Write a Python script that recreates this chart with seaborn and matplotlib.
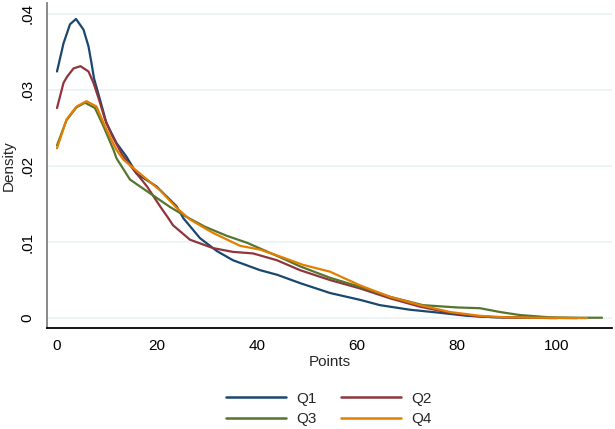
import pandas as pd
import matplotlib
matplotlib.use("Agg")
import matplotlib.pyplot as plt
import seaborn as sns

# density curves (x = points, y = density)
q1_x = [0, 1.3, 2.6, 3.8, 5.3, 6.3, 6.9, 7.4, 8.6, 9.9, 11.9, 13.9, 15.9, 19.9, 23.9, 25.3, 28.6, 32, 35.2, 40.6, 44, 48.6, 54.6, 60.6, 64.6, 70.6, 76.6, 82, 88, 94, 100]
q1_y = [.0324, .0361, .0386, .0393, .0379, .0357, .0335, .0315, .0287, .0256, .0230, .0212, .0190, .0173, .0147, .0131, .0105, .0088, .0076, .0063, .0057, .0046, .0033, .0024, .0017, .0011, .0007, .0003, .0001, .00005, 0.0]

q2_x = [0, 1.3, 2, 3.3, 4.7, 6.3, 7.3, 8.6, 9.6, 11, 13, 15.3, 18, 20.6, 22.3, 23.2, 26.6, 31.2, 35.2, 39.2, 44, 48.6, 54.6, 60.6, 66.6, 72.6, 78.6, 84.6, 90, 96, 104]
q2_y = [.0276, .0309, .0317, .0328, .0331, .0324, .0309, .0283, .0261, .0240, .0215, .0195, .0173, .0147, .0131, .0122, .0103, .0092, .0087, .0085, .0076, .0063, .0050, .0039, .0026, .0015, .0007, .0002, .00008, .00003, 0.0]

q3_x = [0, 1.9, 3.9, 5.6, 7.6, 9.3, 11.3, 11.9, 14.6, 18.6, 22.6, 25.9, 29.6, 34, 38, 44.6, 48.6, 54.6, 60.6, 66.6, 73.2, 80, 84.6, 88.6, 92.6, 98.6, 104, 109]
q3_y = [.0227, .0260, .0277, .0283, .0276, .0252, .0221, .0210, .0182, .0164, .0146, .0133, .0120, .0108, .0099, .0080, .0068, .0053, .0041, .0028, .0017, .0014, .0013, .0008, .0004, .0001, .00005, .00005]

q4_x = [0, 1.9, 3.9, 5.9, 7.9, 9.6, 10.6, 11.9, 13.3, 17.3, 20.6, 23.9, 26.5, 29.6, 31.2, 36.6, 40.6, 44.6, 49.2, 54.6, 60.6, 66.6, 72.6, 78.6, 84.6, 90, 96, 106]
q4_y = [.0223, .0261, .0278, .0285, .0278, .0252, .0238, .0221, .0208, .0186, .0168, .0145, .0130, .0118, .0112, .0095, .0090, .0081, .0070, .0061, .0043, .0028, .0017, .0008, .0003, .0001, .00005, 0.0]

groups = ["Q1", "Q2", "Q3", "Q4"]
colors = ["#1a476f", "#90353b", "#55752f", "#e37e00"]

frames = []
for g, xs, ys in zip(groups, [q1_x, q2_x, q3_x, q4_x], [q1_y, q2_y, q3_y, q4_y]):
    frames.append(pd.DataFrame({"Points": xs, "Density": ys, "group": g}))
df = pd.concat(frames, ignore_index=True)

sns.set_style("white")
plt.rcParams['font.family'] = ['Liberation Sans', 'DejaVu Sans']
plt.rcParams['font.size'] = 11

fig = plt.figure(figsize=(6.15, 4.29), dpi=100)
ax = fig.add_axes([47 / 615, 1 - 328 / 429, 565 / 615, 325 / 429])

sns.lineplot(data=df, x="Points", y="Density", hue="group", palette=colors,
             estimator=None, sort=False, linewidth=1.6, legend=False, ax=ax)

ax.set_xlim(-2, 111)
ax.set_ylim(-0.0013, 0.0414)
ax.set_xticks([0, 20, 40, 60, 80, 100])
ax.set_yticks([0, .01, .02, .03, .04])
ax.set_yticklabels(["0", ".01", ".02", ".03", ".04"], rotation=90, va="center")
ax.grid(axis="y", color="#eaf2f3", linewidth=1.2)
ax.set_axisbelow(True)

for s in ["top", "right"]:
    ax.spines[s].set_visible(False)
ax.spines["left"].set_color("#808080")
ax.spines["bottom"].set_color("black")
ax.spines["left"].set_linewidth(1.3)
ax.spines["bottom"].set_linewidth(1.3)
ax.tick_params(axis="both", direction="out", length=5, width=1.3, color="#808080",
               labelsize=11, labelcolor="black")
ax.tick_params(axis="x", pad=3)
ax.tick_params(axis="y", pad=4)
ax.set_xlabel("Points", fontsize=11, labelpad=1)
ax.set_ylabel("Density", fontsize=11)
ax.yaxis.set_label_coords(-31 / 565, 0.5)

# two rows: Q1 Q2 / Q3 Q4 (legend fills column-wise)
order = [0, 2, 1, 3]
handles = [plt.Line2D([], [], color=colors[i], linewidth=1.8) for i in order]
labels = [groups[i] for i in order]
fig.legend(handles, labels, loc="center", bbox_to_anchor=(329 / 615, 1 - 409 / 429),
           ncol=2, frameon=False, fontsize=11, handlelength=3.9, handletextpad=0.7,
           columnspacing=1.6, labelspacing=0.45)

fig.savefig("out.png", dpi=100, facecolor="white")
